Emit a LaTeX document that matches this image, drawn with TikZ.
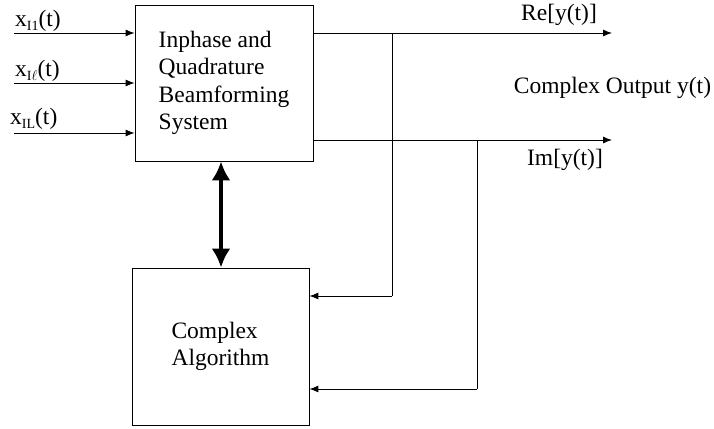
\documentclass[tikz,border=0pt]{standalone}
\usepackage{fontspec}
\setmainfont{Liberation Serif}
\usetikzlibrary{arrows.meta}
\newcommand{\mysub}[1]{\raisebox{-4pt}{\fontsize{14}{14}\selectfont #1}}
\begin{document}
\begin{tikzpicture}[x=1pt,y=-1pt,
  every node/.style={font=\fontsize{23.5}{27.5}\selectfont},
  blockbox/.style={draw, line width=0.8pt, inner sep=0pt},
  thin line/.style={line width=0.9pt},
  sig/.style={thin line, -{Latex[length=9pt,width=7pt]}},
  bidir/.style={line width=4pt, {Latex[length=19pt,width=19pt]}-{Latex[length=19pt,width=19pt]}},
  lbl/.style={inner sep=0pt}
]
\useasboundingbox (0,0) rectangle (714,428);
\node[blockbox, minimum width=178pt, minimum height=156pt, align=left] (top) at (224,83)
  {Inphase and\\Quadrature\\Beamforming\\System};
\node[blockbox, minimum width=177pt, minimum height=157pt, align=left] (bot) at (220.5,346.5)
  {Complex\\Algorithm};
% inputs
\coordinate (i1) at (14,33);
\coordinate (i2) at (14,83);
\coordinate (i3) at (14,133);
\draw[sig] (i1) -- (i1 -| top.west);
\draw[sig] (i2) -- (i2 -| top.west);
\draw[sig] (i3) -- (i3 -| top.west);
\node[lbl, anchor=base west] (l1) at (15,27) {x\mysub{I1}(t)};
\node[lbl, anchor=base west] (l2) at (15,77) {x\mysub{I$\ell$}(t)};
\node[lbl, anchor=base west] (l3) at (10,124) {x\mysub{IL}(t)};
% outputs
\coordinate (re) at (612,33);
\coordinate (im) at (612,140);
\draw[sig] (re -| top.east) -- (re);
\draw[sig] (im -| top.east) -- (im);
\node[lbl] (relbl) at (559,15) {Re[y(t)]};
\node[lbl] (imlbl) at (565,160) {Im[y(t)]};
\node[lbl] (cout) at (612.5,88) {Complex Output y(t)};
% feedback
\coordinate (b1) at (392,33);
\coordinate (b2) at (477,140);
\coordinate (f1) at (392,296);
\coordinate (f2) at (477,389);
\draw[thin line] (b1) -- (f1);
\draw[sig] (f1) -- (f1 -| bot.east);
\draw[thin line] (b2) -- (f2);
\draw[sig] (f2) -- (f2 -| bot.east);
% bidirectional
\draw[bidir] (top.south -| 221,0) -- (bot.north -| 221,0);
\end{tikzpicture}
\end{document}
